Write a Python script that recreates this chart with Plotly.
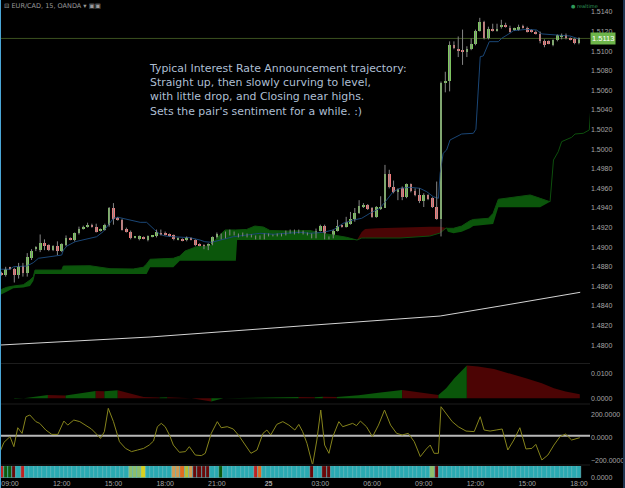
import plotly.graph_objects as go

# ---------------- DATA ----------------
tick_index = [2, 14, 26, 38, 50, 62, 74, 86, 98, 110, 122, 134]
tick_labels = ["09:00", "12:00", "15:00", "18:00", "21:00", "<b>25</b>",
               "03:00", "06:00", "09:00", "12:00", "15:00", "18:00"]
price_ticks = [1.4800 + 0.002 * k for k in range(18)]

opens = [1.4874, 1.4872, 1.4879, 1.4878, 1.4872, 1.4881, 1.4874, 1.4889, 1.4899, 1.4897,
         1.4904, 1.4902, 1.4897, 1.4901, 1.4896, 1.4902, 1.4909, 1.4907, 1.4914, 1.4919,
         1.4921, 1.4923, 1.4921, 1.4917, 1.4918, 1.4923, 1.4940, 1.4930, 1.4928, 1.4919,
         1.4916, 1.4910, 1.4908, 1.4910, 1.4907, 1.4911, 1.4911, 1.4915, 1.4915, 1.4913,
         1.4912, 1.4908, 1.4908, 1.4907, 1.4909, 1.4907, 1.4903, 1.4902, 1.4898, 1.4902,
         1.4910, 1.4913, 1.4910, 1.4914, 1.4915, 1.4912, 1.4913, 1.4913, 1.4912, 1.4911,
         1.4911, 1.4909, 1.4913, 1.4912, 1.4912, 1.4913, 1.4913, 1.4917, 1.4917, 1.4915,
         1.4916, 1.4914, 1.4913, 1.4910, 1.4917, 1.4922, 1.4910, 1.4910, 1.4917, 1.4922,
         1.4921, 1.4924, 1.4929, 1.4935, 1.4942, 1.4943, 1.4940, 1.4931, 1.4940, 1.4940,
         1.4975, 1.4961, 1.4957, 1.4960, 1.4951, 1.4964, 1.4957, 1.4953, 1.4947, 1.4953,
         1.4950, 1.4941, 1.4929, 1.5068, 1.5070, 1.5106, 1.5102, 1.5101, 1.5100, 1.5102,
         1.5107, 1.5121, 1.5130, 1.5113, 1.5123, 1.5121, 1.5125, 1.5126, 1.5124, 1.5122,
         1.5122, 1.5125, 1.5124, 1.5121, 1.5120, 1.5118, 1.5110, 1.5110, 1.5106, 1.5111,
         1.5115, 1.5117, 1.5113, 1.5112, 1.5108]
highs = [1.4875, 1.4880, 1.4880, 1.4879, 1.4884, 1.4884, 1.4894, 1.4898, 1.4901, 1.4913,
         1.4908, 1.4903, 1.4902, 1.4906, 1.4904, 1.4912, 1.4910, 1.4915, 1.4921, 1.4922,
         1.4925, 1.4924, 1.4924, 1.4919, 1.4924, 1.4941, 1.4945, 1.4931, 1.4929, 1.4920,
         1.4917, 1.4911, 1.4912, 1.4911, 1.4912, 1.4912, 1.4918, 1.4918, 1.4916, 1.4914,
         1.4913, 1.4910, 1.4909, 1.4911, 1.4910, 1.4908, 1.4904, 1.4903, 1.4904, 1.4911,
         1.4915, 1.4914, 1.4916, 1.4918, 1.4916, 1.4914, 1.4915, 1.4914, 1.4913, 1.4912,
         1.4912, 1.4914, 1.4914, 1.4913, 1.4914, 1.4914, 1.4917, 1.4918, 1.4918, 1.4918,
         1.4917, 1.4915, 1.4914, 1.4919, 1.4923, 1.4923, 1.4911, 1.4918, 1.4928, 1.4923,
         1.4931, 1.4936, 1.4940, 1.4948, 1.4945, 1.4944, 1.4941, 1.4942, 1.4952, 1.4984,
         1.4979, 1.4968, 1.4960, 1.4962, 1.4965, 1.4965, 1.4960, 1.4960, 1.4955, 1.4954,
         1.4951, 1.4967, 1.5069, 1.5079, 1.5110, 1.5110, 1.5115, 1.5122, 1.5105, 1.5113,
         1.5122, 1.5134, 1.5131, 1.5125, 1.5128, 1.5128, 1.5132, 1.5129, 1.5126, 1.5124,
         1.5127, 1.5127, 1.5125, 1.5122, 1.5121, 1.5120, 1.5112, 1.5111, 1.5112, 1.5117,
         1.5118, 1.5118, 1.5114, 1.5113, 1.5114]
lows = [1.4871, 1.4870, 1.4877, 1.4864, 1.4868, 1.4870, 1.4870, 1.4887, 1.4896, 1.4895,
        1.4897, 1.4896, 1.4896, 1.4892, 1.4895, 1.4901, 1.4907, 1.4906, 1.4913, 1.4918,
        1.4920, 1.4920, 1.4915, 1.4916, 1.4917, 1.4921, 1.4923, 1.4927, 1.4917, 1.4915,
        1.4908, 1.4909, 1.4907, 1.4908, 1.4906, 1.4910, 1.4910, 1.4912, 1.4912, 1.4911,
        1.4907, 1.4907, 1.4906, 1.4906, 1.4907, 1.4901, 1.4901, 1.4898, 1.4897, 1.4902,
        1.4909, 1.4908, 1.4909, 1.4912, 1.4912, 1.4910, 1.4911, 1.4910, 1.4910, 1.4908,
        1.4908, 1.4908, 1.4911, 1.4911, 1.4911, 1.4911, 1.4912, 1.4914, 1.4913, 1.4914,
        1.4913, 1.4912, 1.4909, 1.4909, 1.4916, 1.4908, 1.4908, 1.4909, 1.4916, 1.4920,
        1.4920, 1.4923, 1.4926, 1.4934, 1.4940, 1.4938, 1.4930, 1.4930, 1.4938, 1.4940,
        1.4960, 1.4955, 1.4948, 1.4948, 1.4950, 1.4956, 1.4952, 1.4945, 1.4941, 1.4948,
        1.4940, 1.4928, 1.4911, 1.5058, 1.5059, 1.5102, 1.5094, 1.5086, 1.5094, 1.5101,
        1.5106, 1.5120, 1.5112, 1.5112, 1.5120, 1.5120, 1.5123, 1.5124, 1.5119, 1.5121,
        1.5121, 1.5123, 1.5119, 1.5119, 1.5117, 1.5108, 1.5104, 1.5107, 1.5105, 1.5110,
        1.5112, 1.5112, 1.5111, 1.5107, 1.5107]
closes = [1.4872, 1.4878, 1.4878, 1.4872, 1.4881, 1.4874, 1.4890, 1.4896, 1.4899, 1.4904,
          1.4902, 1.4897, 1.4901, 1.4896, 1.4903, 1.4909, 1.4908, 1.4914, 1.4919, 1.4921,
          1.4923, 1.4921, 1.4916, 1.4918, 1.4923, 1.4940, 1.4929, 1.4928, 1.4918, 1.4916,
          1.4909, 1.4910, 1.4911, 1.4909, 1.4911, 1.4911, 1.4916, 1.4913, 1.4913, 1.4912,
          1.4908, 1.4908, 1.4907, 1.4910, 1.4908, 1.4902, 1.4902, 1.4899, 1.4903, 1.4910,
          1.4913, 1.4909, 1.4915, 1.4916, 1.4913, 1.4913, 1.4913, 1.4911, 1.4911, 1.4909,
          1.4910, 1.4913, 1.4912, 1.4912, 1.4913, 1.4912, 1.4916, 1.4915, 1.4914, 1.4917,
          1.4914, 1.4913, 1.4910, 1.4917, 1.4922, 1.4908, 1.4909, 1.4917, 1.4922, 1.4921,
          1.4926, 1.4929, 1.4935, 1.4942, 1.4942, 1.4939, 1.4931, 1.4941, 1.4941, 1.4975,
          1.4961, 1.4956, 1.4959, 1.4951, 1.4964, 1.4957, 1.4953, 1.4947, 1.4953, 1.4949,
          1.4941, 1.4929, 1.5068, 1.5070, 1.5106, 1.5103, 1.5101, 1.5100, 1.5102, 1.5107,
          1.5121, 1.5130, 1.5113, 1.5123, 1.5121, 1.5123, 1.5126, 1.5125, 1.5120, 1.5123,
          1.5125, 1.5124, 1.5120, 1.5120, 1.5118, 1.5110, 1.5106, 1.5108, 1.5111, 1.5116,
          1.5115, 1.5113, 1.5112, 1.5108, 1.5113]

tenkan_idx = [-0.3, 2.0, 2.8, 5.9, 7.4, 8.6, 14.0, 14.4, 15.2, 17.1, 22.1, 23.6, 24.8, 26.0,
              27.1, 29.1, 32.2, 33.7, 34.5, 35.6, 36.8, 38.0, 39.9, 43.8, 46.1, 47.2, 48.8,
              50.7, 52.3, 53.8, 56.9, 60.0, 63.1, 66.2, 69.3, 71.6, 74.7, 77.0, 79.3, 81.7,
              83.6, 85.5, 87.8, 89.4, 90.9, 92.5, 94.8, 97.1, 98.7, 100.2, 101.4, 101.8,
              102.5, 103.3, 104.1, 106.8, 109.5, 110.1, 111.1, 111.8, 113.2, 115.3, 116.1,
              118.0, 118.8, 121.9, 124.2, 125.4, 128.8, 131.9, 133.5, 134.2]
tenkan_val = [1.48775, 1.48775, 1.48801, 1.48808, 1.48842, 1.48887, 1.48920, 1.48971,
              1.49012, 1.49056, 1.49107, 1.49158, 1.49227, 1.49295, 1.49305, 1.49285,
              1.49254, 1.49254, 1.49219, 1.49176, 1.49132, 1.49114, 1.49107, 1.49097,
              1.49073, 1.49056, 1.49050, 1.49073, 1.49091, 1.49107, 1.49124, 1.49142,
              1.49132, 1.49142, 1.49152, 1.49142, 1.49152, 1.49176, 1.49244, 1.49278,
              1.49295, 1.49346, 1.49397, 1.49482, 1.49566, 1.49601, 1.49611, 1.49601,
              1.49566, 1.49515, 1.49499, 1.49754, 1.49958, 1.49992, 1.50094, 1.50155,
              1.50162, 1.50203, 1.50944, 1.50951, 1.51097, 1.51097, 1.51132, 1.51183,
              1.51209, 1.51223, 1.51216, 1.51176, 1.51165, 1.51155, 1.51132, 1.51121]

cloud_idx = [-0.32, 1.23, 2.77, 5.09, 6.64, 7.41, 7.80, 14.0, 14.37, 20.56, 25.2, 30.6,
             32.9, 33.7, 34.5, 39.9, 41.4, 42.6, 45.3, 48.4, 50.7, 51.9, 54.4, 54.7,
             56.9, 58.8, 60.8, 62.3, 67.0, 71.6, 73.9, 77.0, 80.1, 82.5, 83.6, 84.4,
             87.1, 92.5, 99.4, 101.8, 103.2, 103.6, 104.9, 106.8, 108.7, 109.5, 113.0,
             114.1, 115.3, 119.6, 122.7, 125.0, 127.3, 128.1, 129.2, 130.0, 131.2,
             132.3, 133.1, 135.0, 136.4, 136.7]
span_a = [1.48563, 1.48591, 1.48604, 1.48617, 1.48665, 1.48699, 1.48767, 1.48767,
          1.48808, 1.48811, 1.48781, 1.48778, 1.48795, 1.48829, 1.48877, 1.48887,
          1.48910, 1.48961, 1.49005, 1.49012, 1.49125, 1.49176, 1.49176, 1.49176,
          1.49181, 1.49216, 1.49206, 1.49171, 1.49165, 1.49171, 1.49145, 1.49125,
          1.49101, 1.49073, 1.49094, 1.49094, 1.49094, 1.49094, 1.49114, 1.49145,
          1.49196, 1.49193, 1.49193, 1.49216, 1.49270, 1.49283, 1.49295, 1.49346,
          1.49489, 1.49516, 1.49533, 1.49499, 1.49464, 1.49890, 1.49974, 1.50077,
          1.50101, 1.50121, 1.50155, 1.50162, 1.50196, 1.50383]
span_b = [1.48512, 1.48546, 1.48581, 1.48590, 1.48604, 1.48655, 1.48727, 1.48727,
          1.48727, 1.48727, 1.48727, 1.48727, 1.48727, 1.48727, 1.48795, 1.48795,
          1.48862, 1.48862, 1.48862, 1.48862, 1.48862, 1.48862, 1.48862, 1.49073,
          1.49073, 1.49073, 1.49073, 1.49073, 1.49073, 1.49073, 1.49073, 1.49073,
          1.49073, 1.49073, 1.49155, 1.49186, 1.49193, 1.49203, 1.49209, 1.49209,
          1.49196, 1.49158, 1.49142, 1.49158, 1.49193, 1.49216, 1.49232, 1.49237,
          1.49407, 1.49407, 1.49407, 1.49407, 1.49464, 1.49890, 1.49974, 1.50077,
          1.50101, 1.50121, 1.50155, 1.50162, 1.50196, 1.50383]

sma_idx = [-0.32, 34.5, 69.3, 97.1, 101.8, 115.7, 125.0, 134.3]
sma_val = [1.48002, 1.48084, 1.48196, 1.48278, 1.48298, 1.48400, 1.48468, 1.48540]

last_price = 1.5113

hist_idx = [-0.3, 3.0, 5.2, 10.8, 14.9, 21.9, 23.9, 27.0, 33.0, 36.7, 38.5, 44.1, 48.7,
            51.5, 69.0, 72.7, 74.6, 77.8, 79.2, 82.9, 87.5, 92.1, 93.0, 96.7, 101.4,
            103.2, 105.1, 106.9, 108.0, 110.6, 114.3, 118.0, 121.7, 125.4, 128.2,
            130.9, 134.2]
hist_val = [0.0000, -0.0002, 0.0000, 0.0013, 0.0011, 0.0029, 0.0028, 0.0032, 0.0005,
            0.0003, 0.0004, 0.0000, -0.0013, 0.0000, 0.0005, 0.0004, 0.0006, 0.0005,
            0.0007, 0.0012, 0.0022, 0.0032, 0.0033, 0.0024, 0.0013, 0.0040, 0.0080,
            0.0113, 0.0131, 0.0127, 0.0117, 0.0100, 0.0080, 0.0060, 0.0040, 0.0027,
            0.0016]

cci_idx = [-0.3, 0.6, 2.0, 2.9, 3.8, 4.8, 5.7, 6.6, 8.0, 8.9, 10.3, 11.7, 13.1, 14.5,
           15.4, 16.8, 18.2, 19.6, 20.9, 21.9, 23.0, 23.9, 24.8, 26.0, 27.4, 28.8, 30.2,
           31.6, 33.0, 34.3, 35.3, 36.2, 37.1, 38.0, 39.0, 39.9, 41.3, 42.7, 43.6, 45.0,
           46.4, 47.3, 48.7, 50.1, 51.0, 52.4, 53.8, 55.1, 56.5, 57.9, 59.3, 60.7, 61.6,
           62.5, 63.9, 65.3, 66.7, 68.1, 69.0, 69.9, 70.9, 72.2, 73.2, 74.1, 75.0, 76.0,
           76.9, 78.3, 79.2, 80.6, 81.5, 82.4, 83.3, 84.7, 86.1, 87.5, 88.9, 90.3, 91.7,
           93.0, 94.4, 95.8, 97.2, 98.6, 99.5, 100.4, 101.4, 102.0, 103.2, 104.6, 106.0,
           107.8, 109.7, 111.1, 112.0, 113.4, 114.8, 116.2, 117.5, 118.9, 120.3, 121.7,
           123.1, 124.0, 125.4, 126.8, 128.2, 129.6, 130.9, 132.3, 134.2]
cci_val = [-121, -40, 9, -78, 87, 38, 183, 198, 140, 125, 67, 29, 29, 145,
           110, 154, 140, 110, 76, 38, -6, 53, 256, 140, -35, -93, -121,
           -107, -93, -64, -29, 96, 125, 96, 24, -64, -127, -121, -78, -151,
           -156, -136, 38, 140, 87, 96, 76, 18, -64, -136, -107, 38, 67,
           24, 116, 140, 110, 67, 116, 53, -49, -238, -20, 241, -64, -136,
           9, 140, 96, 110, 125, 105, 145, 96, 9, 110, 241, 110, 38,
           24, 38, -35, -165, -98, -64, -136, -136, 270, 212, 140, 96,
           58, 53, 183, 67, 58, 67, 76, -107, -20, 87, -98,
           -93, -58, -194, -151, -64, 9, 32, -20, 0]
cci_ref_level = 18

strip_runs = [("red", 1), ("grn", 2), ("mar", 1), ("cya", 1), ("red", 1), ("cya", 24),
              ("lgr", 3), ("yel", 1), ("cya", 6), ("tan", 2), ("org", 1), ("olv", 1),
              ("tan", 1), ("mar", 4), ("cya", 2), ("grn", 1), ("cya", 7), ("red", 1),
              ("org", 1), ("cya", 11), ("mar", 1), ("cya", 2), ("mar", 2), ("cya", 23),
              ("lgr", 1), ("mar", 1), ("cya", 33)]

annotation_lines = ["Typical Interest Rate Announcement trajectory:",
                    "Straight up, then slowly curving to level,",
                    "with little drop, and Closing near highs.",
                    "Sets the pair's sentiment for a while. :)"]

# ---------------- STYLE / LAYOUT ----------------
W, H = 625, 488
MR, MB = 35, 10
PW, PH = W - MR, H - MB


def fy(p):
    return 1 - p / PH


def fx(p):
    return p / PW


UP = "#7cc95c"
DN = "#ef7b7b"
CLOUD_G = "#0b560b"
CLOUD_R = "#4a0505"
HIST_G = "#0a560a"
HIST_R = "#4c0404"
strip_palette = {"cya": "#2aaab2", "red": "#c02020", "grn": "#0b5a0b", "mar": "#6a0808",
                 "lgr": "#8fbf6a", "yel": "#d8d020", "tan": "#d49a50", "org": "#e06a20",
                 "olv": "#b8c030"}

n = len(opens)
idx = list(range(n))
fig = go.Figure()


def color_runs(xs, a, b):
    segs = []
    for k in range(len(xs) - 1):
        up = (a[k] + a[k + 1]) >= (b[k] + b[k + 1])
        if segs and segs[-1][0] == up:
            segs[-1][2] = k + 1
        else:
            segs.append([up, k, k + 1])
    return segs


# Ichimoku cloud
for up, s, e in color_runs(cloud_idx, span_a, span_b):
    xs = cloud_idx[s:e + 1] + cloud_idx[s:e + 1][::-1]
    ys = span_a[s:e + 1] + span_b[s:e + 1][::-1]
    fig.add_trace(go.Scatter(x=xs, y=ys, fill="toself", mode="lines",
                             line=dict(width=0), fillcolor=CLOUD_G if up else CLOUD_R,
                             hoverinfo="skip", showlegend=False))
fig.add_trace(go.Scatter(x=cloud_idx, y=span_a, mode="lines",
                         line=dict(color="#0d4f0d", width=1), hoverinfo="skip",
                         showlegend=False))

# long moving average
fig.add_trace(go.Scatter(x=sma_idx, y=sma_val, mode="lines",
                         line=dict(color="#d4d4d4", width=1), showlegend=False))
# conversion line
fig.add_trace(go.Scatter(x=tenkan_idx, y=tenkan_val, mode="lines",
                         line=dict(color="#1a4676", width=1), showlegend=False))

# wicks
wx, wy = [], []
for i in idx:
    wx += [i, i, None]
    wy += [lows[i], highs[i], None]
fig.add_trace(go.Scatter(x=wx, y=wy, mode="lines", line=dict(color="#858585", width=1),
                         hoverinfo="skip", showlegend=False))
# bodies
base = [min(o, c) for o, c in zip(opens, closes)]
hgt = [max(abs(c - o), 0.0001) for o, c in zip(opens, closes)]
col = [UP if c >= o else DN for o, c in zip(opens, closes)]
fig.add_trace(go.Bar(x=idx, y=hgt, base=base, width=0.62,
                     marker=dict(color=col, line=dict(width=0)), showlegend=False))

# histogram panel (green while rising, red while falling)
segs = []
for k in range(len(hist_idx) - 1):
    up = hist_val[k + 1] >= hist_val[k]
    if segs and segs[-1][0] == up:
        segs[-1][2] = k + 1
    else:
        segs.append([up, k, k + 1])
for up, s, e in segs:
    xs = hist_idx[s:e + 1] + [hist_idx[e], hist_idx[s]]
    ys = hist_val[s:e + 1] + [0, 0]
    fig.add_trace(go.Scatter(x=xs, y=ys, fill="toself", mode="lines", line=dict(width=0),
                             fillcolor=HIST_G if up else HIST_R, xaxis="x2", yaxis="y2",
                             hoverinfo="skip", showlegend=False))

# CCI panel
fig.add_trace(go.Scatter(x=cci_idx, y=cci_val, mode="lines",
                         line=dict(color="#86841c", width=1),
                         xaxis="x3", yaxis="y3", showlegend=False))

# colour strip panel
strip_codes = []
for code, cnt in strip_runs:
    strip_codes += [code] * cnt
fig.add_trace(go.Bar(x=idx, y=[1] * n, width=1,
                     marker=dict(color=[strip_palette[c] for c in strip_codes],
                                 line=dict(color="#6cc8cc", width=0.6)),
                     xaxis="x4", yaxis="y4", showlegend=False))

xr = [-0.32, 136.57]
tickfont = dict(family="Liberation Sans, Arial", size=7, color="#a6a6a6")
common_x = dict(range=xr, showgrid=False, zeroline=False, showline=False, ticks="",
                fixedrange=True)
common_y = dict(side="right", showgrid=False, zeroline=False, showline=False, ticks="",
                tickfont=tickfont, fixedrange=True)

shapes = [
    dict(type="line", xref="paper", yref="y", x0=0, x1=1, y0=last_price, y1=last_price,
         line=dict(color="#3c5220", width=1), layer="below"),
    dict(type="line", xref="x3", yref="y3", x0=xr[0], x1=xr[1], y0=cci_ref_level,
         y1=cci_ref_level, line=dict(color="#b8b8b8", width=2), layer="below"),
]
for p in [363.5, 404, 465]:
    shapes.append(dict(type="line", xref="paper", yref="paper", x0=0, x1=1,
                       y0=fy(p), y1=fy(p), line=dict(color="#1d1d1d", width=1), layer="below"))
shapes.append(dict(type="line", xref="paper", yref="paper", x0=0, x1=0, y0=-0.03, y1=1,
                   line=dict(color="#4aa6d6", width=2)))
shapes.append(dict(type="line", xref="paper", yref="paper", x0=fx(624), x1=fx(624),
                   y0=-0.03, y1=1, line=dict(color="#1e3550", width=2)))

annotations = [
    dict(text="<br>".join(annotation_lines), xref="paper", yref="paper",
         x=fx(147), y=fy(89.5), xanchor="left", yanchor="middle", align="left",
         showarrow=False, font=dict(family="DejaVu Sans", size=10.9, color="#aebfd3")),
    dict(text="⊟ EUR/CAD, 15, OANDA ▾ ▣▣", xref="paper", yref="paper",
         x=fx(2), y=fy(6), xanchor="left", yanchor="middle", showarrow=False,
         font=dict(family="DejaVu Sans", size=6.5, color="#9a9a9a")),
    dict(text="● realtime", xref="paper", yref="paper",
         x=fx(569), y=fy(6), xanchor="left", yanchor="middle", showarrow=False,
         font=dict(family="DejaVu Sans", size=5, color="#2f9a5a")),
    dict(text="1.5113", xref="paper", yref="y", x=1.0, y=last_price,
         xanchor="left", yanchor="middle", showarrow=False,
         bgcolor="#6db54a", borderpad=1,
         font=dict(family="Liberation Sans, Arial", size=7.5, color="#ffffff")),
]

fig.update_layout(
    width=W, height=H, margin=dict(l=0, r=MR, t=0, b=MB),
    paper_bgcolor="#000000", plot_bgcolor="#000000",
    barmode="overlay", bargap=0, showlegend=False,
    xaxis=dict(domain=[0, 1], anchor="y", showticklabels=False, **common_x),
    xaxis2=dict(domain=[0, 1], anchor="y2", showticklabels=False, **common_x),
    xaxis3=dict(domain=[0, 1], anchor="y3", showticklabels=False, **common_x),
    xaxis4=dict(domain=[0, 1], anchor="y4", tickvals=tick_index, ticktext=tick_labels,
                tickfont=tickfont, **common_x),
    yaxis=dict(domain=[fy(362), 1], anchor="x", range=[1.47829, 1.51522],
               tickvals=price_ticks, tickformat=".4f", **common_y),
    yaxis2=dict(domain=[fy(403), fy(364)], anchor="x2", range=[-0.00188, 0.01372],
                tickvals=[0, 0.01], tickformat=".4f", **common_y),
    yaxis3=dict(domain=[fy(464), fy(405)], anchor="x3", range=[-229, 285],
                tickvals=[-200, 0, 200], tickformat=".4f", **common_y),
    yaxis4=dict(domain=[0, fy(466)], anchor="x4", range=[0, 1.0],
                tickvals=[0], tickformat=".4f", **common_y),
    shapes=shapes, annotations=annotations,
)

fig.write_html("out.html", config={"displayModeBar": False})
